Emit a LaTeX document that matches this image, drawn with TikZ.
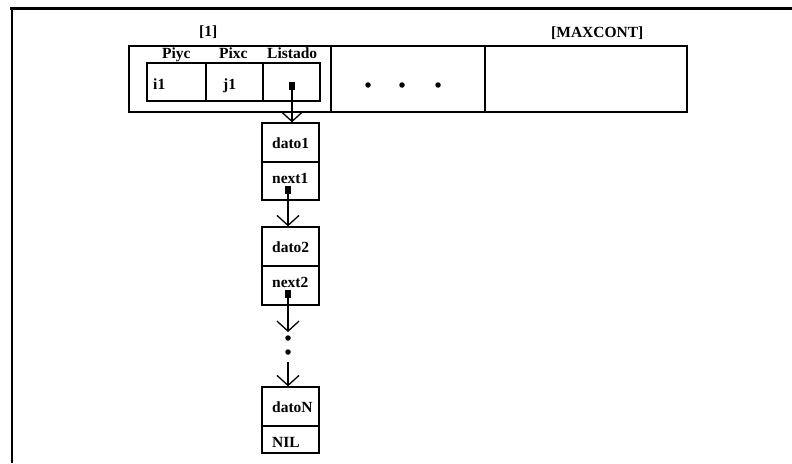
\documentclass[tikz,border=0pt]{standalone}
\usepackage{fontspec}
\setmainfont{Liberation Serif}
\usetikzlibrary{arrows.meta}
\begin{document}
\begin{tikzpicture}[x=1pt,y=-1pt,
  cell/.style={draw,line width=1.4pt,rectangle,inner sep=0pt},
  lbl/.style={anchor=base west,inner sep=0pt,font=\fontsize{15.5}{18}\selectfont\bfseries},
  ptr/.style={fill=black,inner sep=0pt,minimum width=6pt,minimum height=8pt},
  link/.style={line width=1.3pt,-{Straight Barb[length=10pt,width=22pt,line width=1.3pt]}},
  dot/.style={circle,fill=black,inner sep=0pt,minimum size=5.5pt}]
\useasboundingbox (0,0) rectangle (792,463);
% frame
\draw[line width=2.5pt] (10,8.5) -- (792,8.5);
\draw[line width=2.5pt] (12,8.5) -- (12,463);
% outer array cells
\node[cell,minimum width=202pt,minimum height=66pt] (c1) at (230,79) {};
\node[cell,minimum width=154pt,minimum height=66pt] (c2) at (408,79) {};
\node[cell,minimum width=202pt,minimum height=66pt] (c3) at (586,79) {};
\node[lbl] (l1) at (199,36) {[1]};
\node[lbl] (lmax) at (551,37) {[MAXCONT]};
% inner record
\node[cell,minimum width=59pt,minimum height=38pt] (piyc) at (176.5,82) {};
\node[cell,minimum width=57pt,minimum height=38pt] (pixc) at (234.5,82) {};
\node[cell,minimum width=57pt,minimum height=38pt] (list) at (291.5,82) {};
\node[lbl] (tpiyc) at (162,58) {Piyc};
\node[lbl] (tpixc) at (219,58) {Pixc};
\node[lbl] (tlist) at (267,58.5) {Listado};
\node[lbl] (ti1) at (153,89.5) {i1};
\node[lbl] (tj1) at (223,89.5) {j1};
\node[ptr] (sq0) at (292,86) {};
% ellipsis dots
\node[dot] (d1) at (368,85) {};
\node[dot] (d2) at (402,85) {};
\node[dot] (d3) at (438,85) {};
% node 1
\node[cell,minimum width=57pt,minimum height=39pt] (dato1) at (290.5,142.5) {};
\node[cell,minimum width=57pt,minimum height=38pt] (next1) at (290.5,181) {};
\node[lbl] (td1) at (272,148) {dato1};
\node[lbl] (tn1) at (272,183) {next1};
\node[ptr] (sq1) at (288,190) {};
% node 2
\node[cell,minimum width=57pt,minimum height=39pt] (dato2) at (290.5,246.5) {};
\node[cell,minimum width=57pt,minimum height=39pt] (next2) at (290.5,285.5) {};
\node[lbl] (td2) at (272,252) {dato2};
\node[lbl] (tn2) at (272,287) {next2};
\node[ptr] (sq2) at (288,294) {};
% continuation
\coordinate (e2) at (288,332);
\node[dot] (v1) at (288,338) {};
\node[dot] (v2) at (288,352) {};
\coordinate (s3) at (288,362);
% node N
\node[cell,minimum width=57pt,minimum height=39pt] (datoN) at (290.5,406.5) {};
\node[cell,minimum width=57pt,minimum height=27pt] (nil) at (290.5,439.5) {};
\node[lbl] (tdN) at (272,412) {datoN};
\node[lbl] (tnil) at (272,447) {NIL};
% links
\draw[link] (sq0.center) -- (sq0.center |- dato1.north);
\draw[link] (sq1.center) -- (sq1.center |- dato2.north);
\draw[link] (sq2.center) -- (e2);
\draw[link] (s3) -- (s3 |- datoN.north);
\end{tikzpicture}
\end{document}
